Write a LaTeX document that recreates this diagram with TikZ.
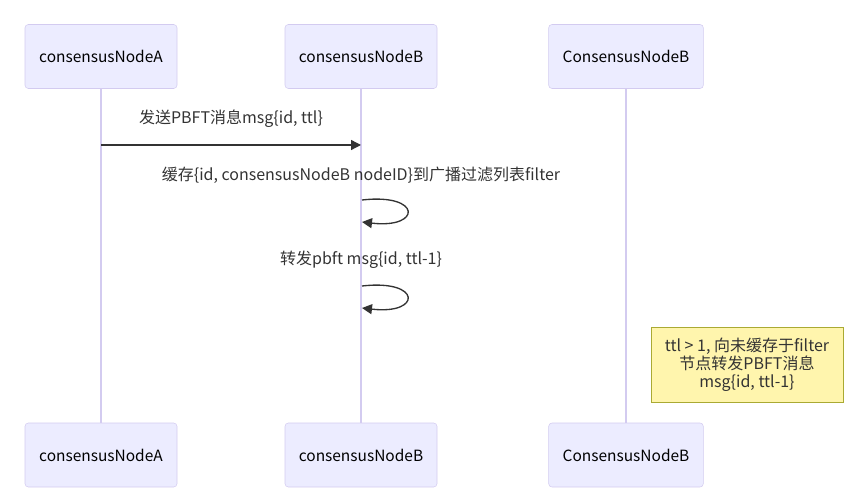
\documentclass[tikz,border=0pt]{standalone}
\usepackage{fontspec}
\setmainfont{Noto Sans CJK SC}
\usetikzlibrary{arrows.meta}
\definecolor{actfill}{HTML}{ECECFF}
\definecolor{actline}{HTML}{D3CBF0}
\definecolor{notefill}{HTML}{FFF5AD}
\definecolor{noteline}{HTML}{AAAA33}
\definecolor{msgcol}{HTML}{333333}
\tikzset{
  actor/.style={draw=actline,fill=actfill,rounded corners=2.5,minimum width=114,minimum height=48,inner sep=0pt,font=\fontsize{11.6}{14}\selectfont},
  msg/.style={draw=msgcol,line width=1,-{Triangle[length=7.5,width=7.5]}},
  lbl/.style={font=\fontsize{12}{14}\selectfont,text=msgcol},
}
\begin{document}
\begin{tikzpicture}[x=0.75pt,y=-0.75pt]
            \useasboundingbox (0,0) rectangle (860,495);
            % actors top and bottom
            \node[actor] (aTop) at (101,56.5) {consensusNodeA};
            \node[actor] (bTop) at (361,56.5) {consensusNodeB};
            \node[actor,minimum width=116] (cTop) at (626,56.5) {ConsensusNodeB};
            \node[actor] (aBot) at (101,455) {consensusNodeA};
            \node[actor] (bBot) at (361,455) {consensusNodeB};
            \node[actor,minimum width=116] (cBot) at (626,455) {ConsensusNodeB};
            \foreach \n in {a,b,c}{
                \draw[actline,line width=1.4] (\n Top) -- (\n Bot);
            }
            % messages
            \coordinate (m1s) at (101,145);
            \coordinate (m1e) at (361,145);
            \draw[msg] (m1s) -- (m1e);
            \node[lbl] (t1) at (231,119) {发送PBFT消息msg\{id, ttl\}};
            \node[lbl] (t2) at (361,175) {缓存\{id, consensusNodeB nodeID\}到广播过滤列表filter};
            \coordinate (l1s) at (362,200);
            \coordinate (l1e) at (362,222);
            \draw[msg] (l1s) .. controls (422,193) and (422,229) .. (l1e);
            \node[lbl] (t3) at (361,260) {转发pbft msg\{id, ttl-1\}};
            \coordinate (l2s) at (362,286);
            \coordinate (l2e) at (362,308);
            \draw[msg] (l2s) .. controls (422,279) and (422,315) .. (l2e);
            % note
            \node[draw=noteline,fill=notefill,minimum width=144,minimum height=56,inner sep=0pt,align=center,
                  font=\fontsize{12}{13.5}\selectfont,text=msgcol] (note) at (747,364.5)
                  {ttl > 1, 向未缓存于filter\\节点转发PBFT消息\\msg\{id, ttl-1\}};
        \end{tikzpicture}
\end{document}
